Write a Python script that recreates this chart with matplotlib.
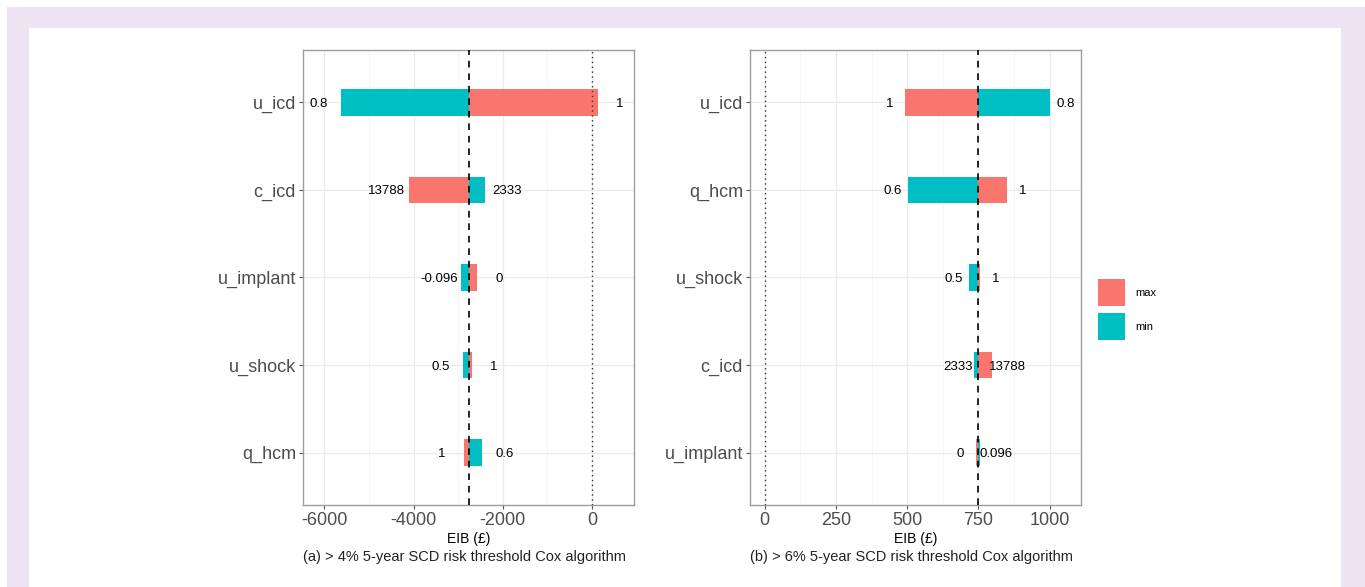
import matplotlib.pyplot as plt
from matplotlib.patches import Rectangle, Patch
import numpy as np

plt.rcParams['font.family'] = ['Liberation Sans', 'DejaVu Sans']

RED = '#F8766D'
TEAL = '#00BFC4'

# panel (a): >4% threshold, parameters listed top to bottom
a_params = ['u_icd', 'c_icd', 'u_implant', 'u_shock', 'q_hcm']
a_base = -2750
a_min_lab = ['0.8', '2333', '-0.096', '0.5', '0.6']
a_min_eib = [-5626, -2400, -2931, -2886, -2467]
a_max_lab = ['1', '13788', '0', '1', '1']
a_max_eib = [128, -4103, -2573, -2700, -2870]

# panel (b): >6% threshold
b_params = ['u_icd', 'q_hcm', 'u_shock', 'c_icd', 'u_implant']
b_base = 748
b_min_lab = ['0.8', '0.6', '0.5', '2333', '0.096']
b_min_eib = [1002, 504, 717, 734, 757]
b_max_lab = ['1', '1', '1', '13788', '0']
b_max_eib = [492, 851, 757, 798, 740]

a_ticks = [-6000, -4000, -2000, 0]
b_ticks = [0, 250, 500, 750, 1000]

W, H = 1365, 587
fig = plt.figure(figsize=(W / 100, H / 100), dpi=100)

# lavender frame around the white page
fig.patches.append(Rectangle((7 / W, 0), 1 - 7 / W, 1 - 7 / H, transform=fig.transFigure,
                             facecolor='#ECE5F1', edgecolor='none', zorder=-2))
fig.patches.append(Rectangle((29 / W, 0), (1341 - 29) / W, 1 - 28 / H, transform=fig.transFigure,
                             facecolor='white', edgecolor='none', zorder=-1))


def tornado(ax, params, base, min_lab, min_eib, max_lab, max_eib, offset, ticks, xlim, caption):
    n = len(params)
    y = np.arange(n)[::-1] + 1
    for vals, labs, col in [(max_eib, max_lab, RED), (min_eib, min_lab, TEAL)]:
        vals = np.array(vals, dtype=float)
        ax.barh(y, vals - base, left=base, height=0.3, color=col, zorder=2)
        for yy, v, t in zip(y, vals, labs):
            side = 1 if v >= base else -1
            ax.text(v + side * offset, yy, t, ha='center', va='center_baseline', fontsize=9.5,
                    color='black', zorder=4)
    ax.axvline(base, color='black', linestyle=(0, (4, 3.5)), lw=1.2, zorder=3)
    ax.axvline(0, color='#333333', linestyle=(0, (1, 2.5)), lw=1.0, zorder=3)

    ax.set_yticks(y)
    ax.set_yticklabels(params)
    ax.set_xticks(ticks)
    ax.set_xticklabels([str(t) for t in ticks])
    step = ticks[1] - ticks[0]
    ax.set_xticks(np.arange(ticks[0] - step / 2, xlim[1], step), minor=True)
    # limits after the ticks, otherwise set_xticks widens the view
    ax.set_xlim(xlim)
    ax.set_ylim(0.4, n + 0.6)
    ax.tick_params(axis='both', which='major', length=3, width=0.8, color='#555555',
                   labelsize=13, labelcolor='#4D4D4D', pad=2)
    ax.tick_params(axis='x', which='minor', length=0)
    ax.grid(True, which='major', color='#EBEBEB', lw=0.9, zorder=0)
    ax.grid(True, which='minor', axis='x', color='#F3F3F3', lw=0.6, zorder=0)
    ax.set_axisbelow(True)
    for s in ax.spines.values():
        s.set_color('#9E9E9E')
        s.set_linewidth(1.0)
    ax.set_xlabel('EIB (£)', fontsize=10, color='black', labelpad=2)
    ax.text(0, -0.1, caption, transform=ax.transAxes, ha='left', va='top', fontsize=10.5,
            color='#222222')


ax_a = fig.add_axes([303 / W, 1 - 505 / H, 331 / W, 455 / H])
tornado(ax_a, a_params, a_base, a_min_lab, a_min_eib, a_max_lab, a_max_eib, 500,
        a_ticks, (-6477, 940), '(a) > 4% 5-year SCD risk threshold Cox algorithm')

ax_b = fig.add_axes([750 / W, 1 - 505 / H, 331 / W, 455 / H])
tornado(ax_b, b_params, b_base, b_min_lab, b_min_eib, b_max_lab, b_max_eib, 55,
        b_ticks, (-51.6, 1110), '(b) > 6% 5-year SCD risk threshold Cox algorithm')

handles = [Patch(facecolor=RED, edgecolor='none', label='max'),
           Patch(facecolor=TEAL, edgecolor='none', label='min')]
fig.legend(handles=handles, loc='upper left', bbox_to_anchor=(1098 / W, 1 - 279 / H),
           frameon=False, fontsize=8, handlelength=2.43, handleheight=3.36,
           labelspacing=0.63, handletextpad=0.9, borderpad=0, borderaxespad=0)

fig.savefig('out.png', dpi=100)
